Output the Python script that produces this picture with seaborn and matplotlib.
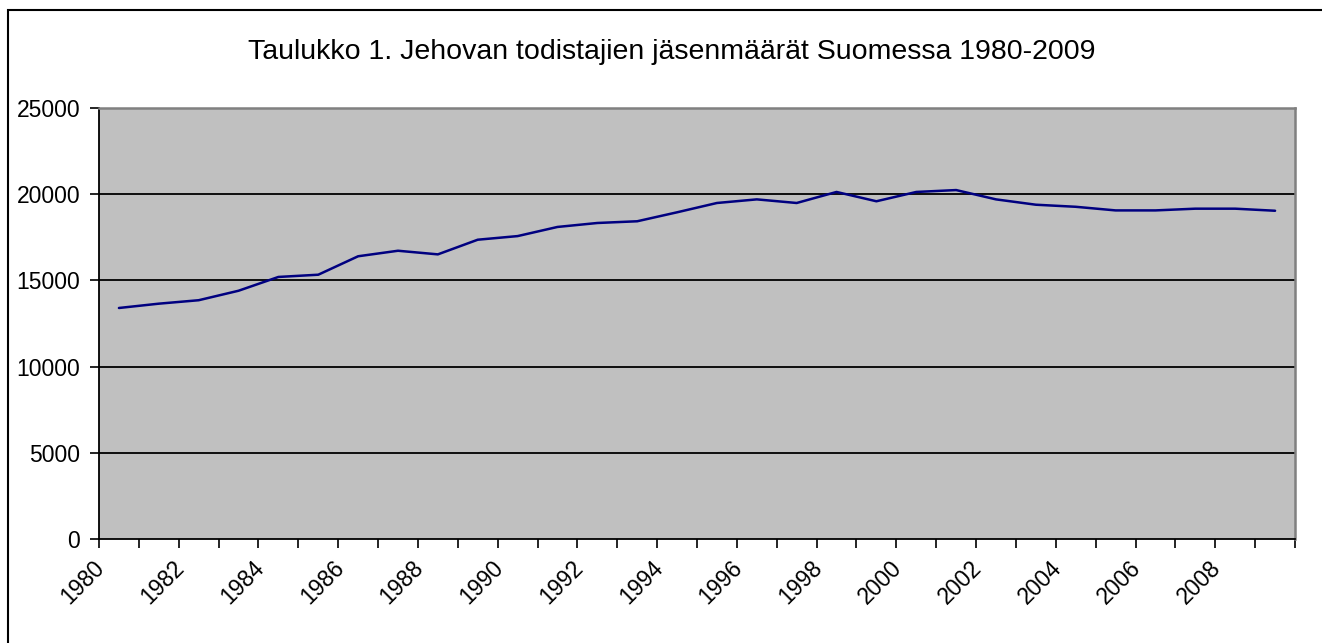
import matplotlib
matplotlib.use("Agg")
import matplotlib.pyplot as plt
import matplotlib.transforms as mtransforms
import numpy as np
import pandas as pd
import seaborn as sns
from matplotlib.patches import Rectangle

# Jehovah's Witnesses membership in Finland
years = list(range(1980, 2010))
members = [
    13400, 13650, 13850, 14400, 15200, 15330, 16400, 16720, 16510, 17360,
    17570, 18100, 18330, 18430, 18950, 19490, 19700, 19490, 20130, 19590,
    20130, 20240, 19700, 19390, 19270, 19060, 19060, 19160, 19160, 19040,
]
y_ticks = [0, 5000, 10000, 15000, 20000, 25000]
title = "Taulukko 1. Jehovan todistajien jäsenmäärät Suomessa 1980-2009"

sns.set_theme(style="white")
plt.rcParams["font.family"] = ["Liberation Sans", "DejaVu Sans"]
plt.rcParams["text.color"] = "black"
plt.rcParams["xtick.color"] = "black"
plt.rcParams["ytick.color"] = "black"

df = pd.DataFrame({"pos": np.arange(len(years)), "year": years, "members": members})

fig = plt.figure(figsize=(13.22, 6.43), dpi=100)
ax = fig.add_axes([99 / 1322, 1 - 539 / 643, (1295 - 99) / 1322, (539 - 108) / 643])
ax.set_facecolor("#C0C0C0")

sns.lineplot(data=df, x="pos", y="members", ax=ax, color="#000080", linewidth=1.8)

ax.set_xlim(-0.5, len(years) - 0.5)
ax.set_ylim(0, 25000)
ax.set_yticks(y_ticks)
ax.set_yticklabels([str(v) for v in y_ticks], fontsize=16.5)
for v in y_ticks[1:]:
    ax.axhline(v, color="black", linewidth=1.3, zorder=1)

# category boundaries as ticks, every other year labelled
bounds = np.arange(len(years) + 1) - 0.5
ax.set_xticks(bounds)
labels = [str(years[i]) if i < len(years) and i % 2 == 0 else "" for i in range(len(bounds))]
ax.set_xticklabels(labels, fontsize=16.5, rotation=45, ha="right", va="top", rotation_mode="anchor")

ax.tick_params(axis="both", bottom=True, left=True, direction="out", length=6.5, width=1.2,
               color="black", labelcolor="black")
ax.tick_params(axis="y", pad=7)
ax.tick_params(axis="x", pad=6)
ax.set_xlabel("")
ax.set_ylabel("")

# nudge the rotated year labels a little to the left, like the original
shift = mtransforms.ScaledTranslation(-6 / 100, 0, fig.dpi_scale_trans)
for lbl in ax.get_xticklabels():
    lbl.set_transform(lbl.get_transform() + shift)

for side in ["left", "bottom"]:
    ax.spines[side].set_color("black")
    ax.spines[side].set_linewidth(1.3)
for side in ["top", "right"]:
    ax.spines[side].set_color("#808080")
    ax.spines[side].set_linewidth(1.8)

fig.text(672 / 1322, 1 - 52 / 643, title, ha="center", va="center", fontsize=20.5, color="black")

# outer chart frame (cut off at right and bottom like the original)
fig.patches.append(Rectangle((8 / 1322, -0.05), 1.05, 1 - 10 / 643 + 0.05,
                             transform=fig.transFigure, fill=False,
                             edgecolor="black", linewidth=1.5))

fig.savefig("out.png", dpi=100)
plt.close(fig)
